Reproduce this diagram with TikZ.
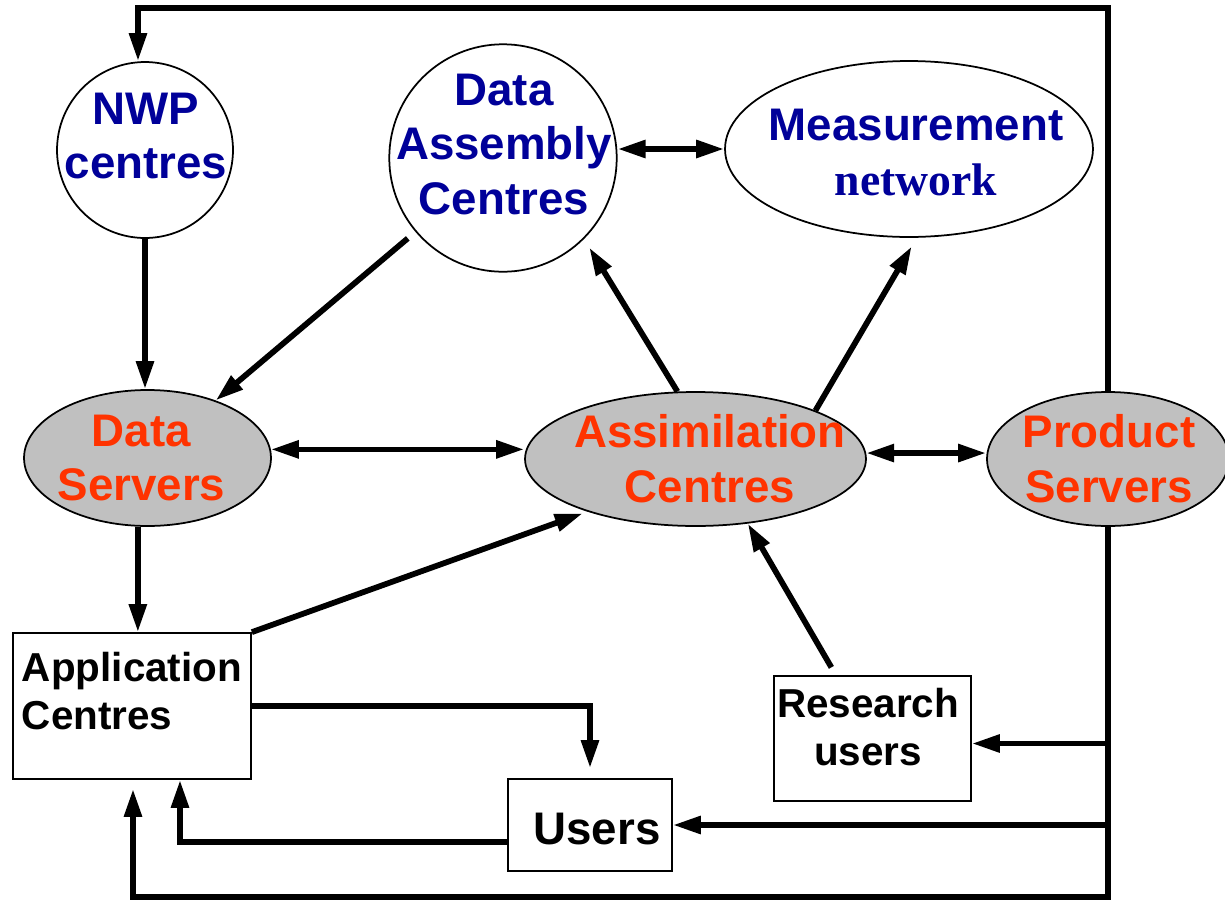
\documentclass[tikz,border=0pt]{standalone}
\usepackage{fontspec}
\setmainfont{Liberation Sans}
\newfontfamily\serifbf{Liberation Serif}
\usepackage{xcolor}
\usepackage{tikz}
\usetikzlibrary{arrows.meta, shapes.geometric}

\definecolor{navy}{HTML}{000099}
\definecolor{orangered}{HTML}{FF3300}
\definecolor{shade}{HTML}{C0C0C0}

\begin{document}
\begin{tikzpicture}[x=0.02cm, y=-0.02cm,
        >={Triangle[length=0.56cm, width=0.34cm]},
        big/.style={font=\fontsize{26}{31.3}\selectfont\bfseries, align=center},
        small/.style={font=\fontsize{23}{27.3}\selectfont\bfseries},
        blue text/.style={big, text=navy},
        red text/.style={big, text=orangered},
        disc/.style={circle, draw, line width=0.035cm, inner sep=0pt},
        oval/.style={ellipse, draw, line width=0.035cm, inner sep=0pt},
        card/.style={rectangle, draw, line width=0.035cm, inner sep=0pt},
        flow/.style={line width=0.115cm, ->},
        both/.style={line width=0.115cm, <->}]
        \useasboundingbox (0,0) rectangle (1225,900);

        \node[disc, minimum size=3.52cm, label={[blue text, xshift=0.02cm, yshift=0.28cm]center:NWP\\centres}] (nwp) at (145,150) {};
        \node[disc, minimum size=4.55cm, label={[blue text, xshift=0.02cm, yshift=0.27cm]center:Data\\Assembly\\Centres}] (das) at (503,158) {};
        \node[oval, minimum width=7.36cm, minimum height=3.52cm, label={[blue text, xshift=0.14cm, yshift=-0.07cm]center:Measurement\\{\serifbf network}}] (meas) at (909,149) {};

        \node[oval, fill=shade, minimum width=4.94cm, minimum height=2.72cm, label={[red text, xshift=-0.12cm]center:Data\\Servers}] (ds) at (147.5,458) {};
        \node[oval, fill=shade, minimum width=6.82cm, minimum height=2.68cm, label={[red text, xshift=0.29cm]center:Assimilation\\Centres}] (ac) at (695.5,459) {};
        \node[oval, fill=shade, minimum width=4.84cm, minimum height=2.68cm, label={[red text, xshift=0.02cm]center:Product\\Servers}] (ps) at (1108,459) {};

        \node[card, minimum width=4.76cm, minimum height=2.92cm, label={[small, align=left, yshift=0.29cm]center:Application\\Centres}] (app) at (132,706) {};
        \node[card, minimum width=3.94cm, minimum height=2.5cm, label={[small, align=center, xshift=-0.09cm, yshift=0.22cm]center:Research\\users}] (rsu) at (872.5,738.5) {};
        \node[card, minimum width=3.28cm, minimum height=1.84cm, label={[big, xshift=0.14cm, yshift=-0.08cm]center:Users}] (usr) at (590,825) {};

        \coordinate (top) at (138,8);
        \coordinate (bot) at (133,897);
        \coordinate (rsu-in) at ([yshift=-0.1cm]rsu.east);

        % loops round the outside
        \draw[flow] (ps.north) |- (top) -- (top |- nwp.north);
        \draw[flow, shorten >=0.18cm] (ps.south) |- (bot) -- (bot |- app.south);
        \draw[flow] (rsu-in -| ps.south) -- (rsu-in);
        \draw[flow] (usr.east -| ps.south) -- (usr.east);

        \draw[flow] (nwp.south) -- (nwp.south |- ds.north);
        \draw[flow, shorten <=0.2cm] (das) -- (ds);
        \draw[both] (ds.4) -- (ds.4 -| ac.west);
        \draw[flow, shorten >=0.2cm] (ac.105) -- (das.-45);
        \draw[flow, shorten >=0.2cm] (ac.22) -- (meas.-85);
        \draw[both] (meas.west -| das.east) -- (meas.west);
        \draw[both] (ac.2) -- (ac.2 -| ps.west);

        \draw[flow] (ds.262) -- (ds.262 |- app.north);
        \draw[flow, shorten >=0.1cm] (app.north east) -- (ac.206);
        \draw[flow, shorten <=0.18cm] (rsu.120) -- (ac.-51);
        \draw[flow, shorten >=0.2cm] (app.east) -| (usr.north);
        \draw[flow] ([yshift=-0.34cm]usr.west) -| ([xshift=0.96cm]app.south); % users back to apps
    \end{tikzpicture}
\end{document}
